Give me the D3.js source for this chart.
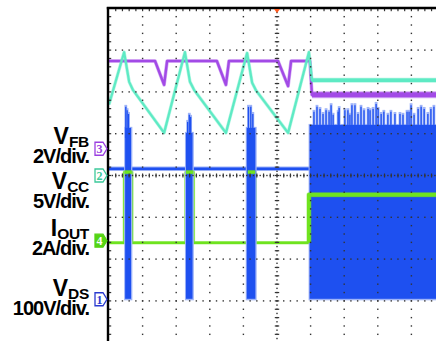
<!DOCTYPE html>
<html>
<head>
<meta charset="utf-8">
<script src="https://cdn.jsdelivr.net/npm/d3@7"></script>
<style>
  html, body { margin: 0; padding: 0; background: #fff; }
  svg { display: block; }
  .lbl { font-family: "Liberation Sans", Arial, sans-serif; font-weight: bold; fill: #000; }
  .mk { font-family: "Liberation Serif", "Times New Roman", serif; font-size: 12px; }
</style>
</head>
<body>
<svg width="436" height="341"></svg>
<script>
// scope readings: x in time divisions (0..10), y in screen divisions (-4..4, 0 = centre line)
var vfb = [[0, 2.74], [1.37, 2.74], [1.64, 2.17], [1.73, 2.74], [3.21, 2.74], [3.48, 2.17], [3.57, 2.74],
    [5.03, 2.74], [5.33, 2.14], [5.42, 2.74], [5.98, 2.74], [6.04, 1.93], [10, 1.93]];

var vcc = [[0, 1.70], [0.45, 2.95], [0.60, 2.24], [0.71, 2.05], [1.64, 1.02], [2.26, 2.95], [2.41, 2.24],
    [2.53, 2.05], [3.48, 1.02], [4.11, 2.93], [4.26, 2.22], [4.38, 2.03], [5.33, 1.02], [5.95, 2.95],
    [6.04, 2.28], [10, 2.28]];

var iout = [[0, -1.61], [0.46, -1.61], [0.46, 0.08], [0.68, 0.08], [0.68, -1.61], [2.29, -1.61], [2.29, 0.08],
    [2.51, 0.08], [2.51, -1.61], [4.13, -1.61], [4.13, 0.08], [4.35, 0.08], [4.35, -1.61], [5.95, -1.61],
    [5.95, -0.46], [10, -0.46]];

var vdsBase = [[0, 0.16], [5.97, 0.16]];
var vdsFloor = -2.95;
// start, end, top of the dense part
var vdsBursts = [[0.48, 0.68, 1.14], [2.29, 2.51, 1.02], [4.10, 4.38, 1.14], [5.97, 10, 1.21]];
var vdsSpikes = [[0.50, 1.69], [0.54, 1.61], [0.58, 1.52], [2.34, 1.33], [2.39, 1.50], [2.43, 1.45],
    [4.15, 1.69], [4.22, 1.69], [4.28, 1.52],
    [6.10, 1.57], [6.19, 1.69], [6.28, 1.64], [6.37, 1.52], [6.46, 1.61], [6.55, 1.57], [6.61, 1.73],
    [6.67, 1.50], [6.82, 1.57], [6.85, 1.66], [7.02, 1.61], [7.11, 1.61], [7.17, 1.50], [7.23, 1.73],
    [7.32, 1.73], [7.41, 1.52], [7.50, 1.69], [7.59, 1.61], [7.71, 1.64], [7.77, 1.61], [7.86, 1.64],
    [7.95, 1.76], [8.01, 1.64], [8.10, 1.52], [8.18, 1.57], [8.30, 1.50], [8.39, 1.57], [8.51, 1.52],
    [8.66, 1.52], [8.75, 1.50], [8.87, 1.57], [8.93, 1.57], [8.99, 1.73], [9.08, 1.50], [9.20, 1.64],
    [9.29, 1.69], [9.38, 1.64], [9.49, 1.52], [9.58, 1.64], [9.67, 1.69]];

var labelMain = ["V", "V", "I", "V"];
var labelSub = ["FB", "CC", "OUT", "DS"];
var labelScale = ["2V/div.", "5V/div.", "2A/div.", "100V/div."];
var markerNum = ["3", "2", "4", "1"];
var markerLevel = [0.64, 0, -1.56, -2.96];

var svg = d3.select("svg");

var x = d3.scaleLinear().domain([0, 10]).range([109, 445]),
    y = d3.scaleLinear().domain([-4, 4]).range([342.7, 8.3]);

var purple = "#a24ae6", aqua = "#5eeac4", blue = "#1e50f0", blueLight = "#9fb4f8", green = "#6fe31f";
var markerColor = ["#9a3fe0", "#3cc99a", "#55d414", "#2a3ad0"];
var labelTop = [128, 173, 220, 280];

var line = d3.line()
    .x(function(d) { return x(d[0]); })
    .y(function(d) { return y(d[1]); });

svg.append("defs").append("clipPath")
    .attr("id", "clip")
    .append("rect")
    .attr("x", 108)
    .attr("y", 8)
    .attr("width", 436 - 108)
    .attr("height", 341 - 8);

var plot = svg.append("g").attr("clip-path", "url(#clip)");

function trace(data, color, w, halo) {
    plot.append("path")
        .datum(data)
        .attr("d", line)
        .attr("fill", "none")
        .attr("stroke", color)
        .attr("stroke-opacity", 0.45)
        .attr("stroke-width", halo)
        .attr("stroke-linejoin", "round");
    plot.append("path")
        .datum(data)
        .attr("d", line)
        .attr("fill", "none")
        .attr("stroke", color)
        .attr("stroke-width", w)
        .attr("stroke-linejoin", "round");
}

function after(data, t) {
    return data.filter(function(d) { return d[0] >= t; });
}

// VFB
trace(vfb, purple, 2.4, 3.6);
trace(after(vfb, 6.04), purple, 5, 7);

// VCC
trace(vcc, aqua, 2.2, 3.4);
trace(after(vcc, 6.04), aqua, 3.5, 5);

// IOUT sits under the VDS bursts, only its pulse tops show through
trace(iout, green, 2.4, 3.6);

// VDS
trace(vdsBase, blue, 2.6, 4.4);

plot.selectAll(".burstHalo")
    .data(vdsBursts)
    .enter().append("rect")
    .attr("class", "burstHalo")
    .attr("x", function(d) { return x(d[0]) - 1; })
    .attr("y", function(d) { return y(d[2]) - 1; })
    .attr("width", function(d) { return x(d[1]) - x(d[0]) + 1.5; })
    .attr("height", function(d) { return y(vdsFloor) - y(d[2]) + 2.5; })
    .attr("fill", blueLight);

plot.selectAll(".spikeHalo")
    .data(vdsSpikes)
    .enter().append("line")
    .attr("class", "spikeHalo")
    .attr("x1", function(d) { return x(d[0]); })
    .attr("x2", function(d) { return x(d[0]); })
    .attr("y1", function(d) { return y(d[1]); })
    .attr("y2", y(0.9))
    .attr("stroke", blueLight)
    .attr("stroke-width", 2.8);

plot.selectAll(".spike")
    .data(vdsSpikes)
    .enter().append("line")
    .attr("class", "spike")
    .attr("x1", function(d) { return x(d[0]); })
    .attr("x2", function(d) { return x(d[0]); })
    .attr("y1", function(d) { return y(d[1]) + 2; })
    .attr("y2", y(0.9))
    .attr("stroke", blue)
    .attr("stroke-width", 1.3);

plot.selectAll(".burst")
    .data(vdsBursts)
    .enter().append("rect")
    .attr("class", "burst")
    .attr("x", function(d) { return x(d[0]); })
    .attr("y", function(d) { return y(d[2]); })
    .attr("width", function(d) { return x(d[1]) - x(d[0]) - 0.8; })
    .attr("height", function(d) { return y(vdsFloor) - y(d[2]); })
    .attr("fill", blue);

// IOUT pulse tops and the high level, drawn over the bursts
var caps = [];
iout.forEach(function(d, i) {
    var n = iout[i + 1];
    if (n && d[1] == n[1] && d[1] > -1.5 && n[0] < 5.9) caps.push([d, n]);
});
caps.forEach(function(c) { trace(c, green, 3.2, 4.4); });
trace(after(iout, 5.95), green, 3.8, 5);

// graticule, drawn over the traces like on the scope
var grid = svg.append("g").attr("fill", "#333");
var minorX = d3.range(0, 10.001, 0.2),
    minorY = d3.range(-4, 4.001, 0.2),
    fineX = d3.range(0, 10.001, 0.1),
    fineY = d3.range(-4, 4.001, 0.1);

[-3, -2, -1, 1, 2, 3].forEach(function(r) {
    grid.selectAll(null)
        .data(minorX.filter(function(t) { return t > 0.1; }))
        .enter().append("rect")
        .attr("x", function(t) { return x(t) - 0.7; })
        .attr("y", y(r) - 0.7)
        .attr("width", 1.4)
        .attr("height", 1.4);
});

[1, 2, 3, 4, 6, 7, 8, 9].forEach(function(c) {
    grid.selectAll(null)
        .data(minorY)
        .enter().append("rect")
        .attr("x", x(c) - 0.7)
        .attr("y", function(t) { return y(t) - 0.7; })
        .attr("width", 1.4)
        .attr("height", 1.4);
});

// centre lines
grid.selectAll(null)
    .data(fineX.filter(function(t) { return t > 0.05; }))
    .enter().append("rect")
    .attr("x", function(t) { return x(t) - 0.7; })
    .attr("y", y(0) - 0.7)
    .attr("width", 1.4)
    .attr("height", 1.4);
grid.selectAll(null)
    .data(minorX.filter(function(t) { return t > 0.1; }))
    .enter().append("rect")
    .attr("x", function(t) { return x(t) - 0.6; })
    .attr("y", y(0) - 2)
    .attr("width", 1.2)
    .attr("height", 4);
grid.selectAll(null)
    .data(fineY)
    .enter().append("rect")
    .attr("x", x(5) - 0.7)
    .attr("y", function(t) { return y(t) - 0.7; })
    .attr("width", 1.4)
    .attr("height", 1.4);
grid.selectAll(null)
    .data(minorY)
    .enter().append("rect")
    .attr("x", x(5) - 2.2)
    .attr("y", function(t) { return y(t) - 0.6; })
    .attr("width", 4.4)
    .attr("height", 1.2);

// ticks along the top and left edges
grid.selectAll(null)
    .data(minorX.filter(function(t) { return t > 0.1; }))
    .enter().append("rect")
    .attr("x", function(t) { return x(t) - 0.6; })
    .attr("y", 9)
    .attr("width", 1.2)
    .attr("height", 2.2);
grid.selectAll(null)
    .data(minorY)
    .enter().append("rect")
    .attr("x", 109)
    .attr("y", function(t) { return y(t) - 0.6; })
    .attr("width", 2.2)
    .attr("height", 1.2);

// frame
svg.append("line")
    .attr("x1", 106.8).attr("x2", 436)
    .attr("y1", 8).attr("y2", 8)
    .attr("stroke", "#000").attr("stroke-width", 2.6);
svg.append("line")
    .attr("x1", 108).attr("x2", 108)
    .attr("y1", 7).attr("y2", 341)
    .attr("stroke", "#000").attr("stroke-width", 2.4);

// trigger position
svg.append("path")
    .attr("d", "M" + (x(5) - 3) + ",9 L" + (x(5) + 3) + ",9 L" + x(5) + ",13 Z")
    .attr("fill", "#ff5a1e");

// channel ground markers
var mk = svg.selectAll(".marker")
    .data(markerNum)
    .enter().append("g")
    .attr("class", "marker")
    .attr("transform", function(d, i) { return "translate(0," + y(markerLevel[i]) + ")"; });

mk.append("path")
    .attr("d", "M95,-6.5 H103 L107,0 L103,6.5 H95 Z")
    .attr("fill", function(d, i) { return i == 2 ? markerColor[i] : "#fff"; })
    .attr("stroke", function(d, i) { return markerColor[i]; })
    .attr("stroke-width", 1.3);

mk.append("text")
    .attr("class", "mk")
    .attr("x", 99.5)
    .attr("y", 4.3)
    .attr("text-anchor", "middle")
    .attr("fill", function(d, i) { return i == 2 ? "#fff" : markerColor[i]; })
    .style("font-weight", "bold")
    .text(function(d) { return d; });

// channel labels
var lb = svg.selectAll(".label")
    .data(labelMain)
    .enter().append("g")
    .attr("class", "label");

var main = lb.append("text")
    .attr("class", "lbl")
    .attr("x", 89)
    .attr("y", function(d, i) { return labelTop[i] + 16; })
    .attr("text-anchor", "end")
    .style("font-size", "23px");
main.append("tspan")
    .text(function(d) { return d; });
main.append("tspan")
    .attr("dy", 3)
    .style("font-size", "15.5px")
    .style("letter-spacing", "-0.3px")
    .text(function(d, i) { return labelSub[i]; });

lb.append("text")
    .attr("class", "lbl")
    .attr("x", 89)
    .attr("y", function(d, i) { return labelTop[i] + 35; })
    .attr("text-anchor", "end")
    .style("font-size", "20px")
    .style("letter-spacing", "-1px")
    .text(function(d, i) { return labelScale[i]; });
</script>
</body>
</html>
